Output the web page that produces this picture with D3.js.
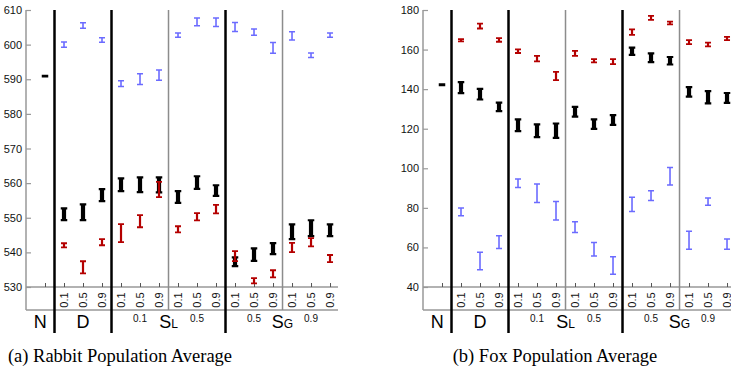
<!DOCTYPE html>
<html>
<head>
<meta charset="utf-8">
<script src="https://cdn.jsdelivr.net/npm/d3@7"></script>
<style>
  body { margin: 0; background: #fff; }
  svg { display: block; }
</style>
</head>
<body>
<div id="d3-container"></div>
<script>
/* DATA */
// slot 0 = N, slots 1..15 = D, SL(0.1), SL(0.5), SG(0.5), SG(0.9) with 0.1/0.5/0.9 each
const tickLabels = ["0.1", "0.5", "0.9"];
const groupLabels = [
  { main: "N", sub: "", at: -0.25 },
  { main: "D", sub: "", at: 2 },
  { main: "S", sub: "L", at: 6.5 },
  { main: "S", sub: "G", at: 12.5 }
];
const groupValues = [
  { label: "0.1", at: 5 },
  { label: "0.5", at: 8 },
  { label: "0.5", at: 11 },
  { label: "0.9", at: 14 }
];
const thickSeps = [0.5, 3.5, 9.5];
const thinSeps = [6.5, 12.5];

// each entry = [low, high] of the error bar
const rabbitBlack = [[590.5, 591.3], [549, 553], [549, 554.2], [554.5, 558.6], [557.4, 561.7], [557.1, 562], [557, 562],
  [554, 558], [558, 562.3], [556, 559.7], [535.7, 538.9], [537.2, 541.5], [539.2, 543], [543.5, 548.4], [544.4, 549.6], [544.4, 548.4]];
const rabbitRed = [null, [541.2, 542.9], [533.7, 537.7], [541.8, 544.1], [542.7, 548.4], [547, 551], [555.7, 560.6],
  [545.5, 547.8], [549, 551.6], [551, 554], [537.2, 540.6], [530.8, 532.8], [532.5, 535.1], [539.8, 543], [541.5, 544.4], [536.9, 539.5]];
const rabbitBlue = [null, [599, 601], [604.5, 606.5], [600.5, 602.2], [587.7, 589.8], [588.3, 591.8], [589.5, 592.9],
  [601.9, 603.6], [605.2, 607.9], [605, 607.9], [603.6, 606.6], [602.5, 604.7], [597.3, 600.8], [601.1, 603.9], [596.1, 597.8], [601.9, 603.6]];

const foxBlack = [[141.5, 143], [137.4, 144.1], [134.2, 140.7], [128.3, 133.7], [118.2, 125.3], [115.2, 122.7], [114.8, 123.2],
  [125.6, 131.6], [119.4, 125.3], [121.4, 127.4], [156.8, 161.5], [153.1, 158.6], [151.9, 156.8], [135.7, 141.6], [132.3, 139.6], [132.5, 138.6]];
const foxRed = [null, [163.7, 165.7], [170.2, 173.6], [163.5, 166.2], [157.8, 160.6], [153.6, 157.3], [144.1, 149.2],
  [156.4, 159.8], [153.1, 155.6], [152.2, 155.6], [167, 170.7], [174.6, 177.5], [172.3, 174.6], [162.3, 165.2], [161.2, 164], [164.3, 166.9]];
const foxBlue = [null, [75.6, 80.3], [48.3, 57.9], [59.1, 66.3], [89.9, 95], [82.3, 92.4], [73.5, 83.6],
  [67.2, 73.4], [55.3, 62.9], [46.1, 55.7], [77.8, 85.7], [83.3, 89], [91.2, 100.8], [58.7, 68.5], [81, 85.4], [58.7, 64.6]];

const rabbitTicks = [530, 540, 550, 560, 570, 580, 590, 600, 610];
const foxTicks = [40, 60, 80, 100, 120, 140, 160, 180];

/* CONSTANTS */
const width = 731, height = 376;
const topY = 10, baseY = 287, frameBottom = 310, labelBottom = 333;
const plotWidth = 312;
const sans = "Liberation Sans, Arial, sans-serif";

const seriesStyle = {
  black: { color: "#000", stem: 4.2, cap: 6.5, capW: 2.2 },
  red: { color: "#b40000", stem: 2.2, cap: 6, capW: 1.8 },
  blue: { color: "#6b6bff", stem: 1.6, cap: 6, capW: 1.5 }
};

const svg = d3.select("#d3-container")
  .append("svg")
  .attr("width", width)
  .attr("height", height)
  .attr("font-family", sans);

svg.append("rect").attr("width", width).attr("height", height).attr("fill", "#fff");

function drawPanel(left, domain, ticks, series, caption, captionX) {
  const g = svg.append("g").attr("transform", `translate(${left},0)`);

  const x = d3.scaleLinear().domain([-1, 15.42]).range([0, plotWidth]);
  const y = d3.scaleLinear().domain(domain).range([baseY, topY]);

  // frame lines
  const gray = "#999";
  g.append("line").attr("x1", 0).attr("x2", 0).attr("y1", topY).attr("y2", frameBottom)
    .attr("stroke", gray).attr("stroke-width", 1.5);
  g.append("line").attr("x1", 0).attr("x2", plotWidth).attr("y1", frameBottom).attr("y2", frameBottom)
    .attr("stroke", gray).attr("stroke-width", 1.5);

  // y axis
  const yAxis = d3.axisLeft(y).tickValues(ticks).tickSizeInner(-5).tickSizeOuter(0).tickPadding(4);
  const ya = g.append("g").call(yAxis).attr("font-family", sans);
  ya.select(".domain").remove();
  ya.selectAll("line").attr("stroke", gray).attr("stroke-width", 1.2);
  ya.selectAll("text").attr("font-size", 11).attr("fill", "#111");

  // x axis on baseline
  const xAxis = d3.axisBottom(x).tickValues(d3.range(0, 16)).tickSizeInner(-4).tickSizeOuter(0)
    .tickFormat(i => i === 0 ? "" : tickLabels[(i - 1) % 3]);
  const xa = g.append("g").attr("transform", `translate(0,${baseY})`).call(xAxis).attr("font-family", sans);
  xa.select(".domain").attr("stroke", gray).attr("stroke-width", 1.5).attr("d", `M0,0H${plotWidth}`);
  xa.selectAll("line").attr("stroke", "#555").attr("stroke-width", 1);
  xa.selectAll("text")
    .attr("font-size", 11).attr("fill", "#111")
    .attr("y", 0).attr("dy", "0.35em")
    .attr("text-anchor", "middle")
    .attr("transform", "translate(0,13) rotate(-90)");

  // separators
  g.selectAll(".thin").data(thinSeps).join("line")
    .attr("x1", d => x(d)).attr("x2", d => x(d)).attr("y1", topY).attr("y2", frameBottom)
    .attr("stroke", "#8c8c8c").attr("stroke-width", 1.5);
  g.selectAll(".thick").data(thickSeps).join("line")
    .attr("x1", d => x(d)).attr("x2", d => x(d)).attr("y1", topY).attr("y2", labelBottom)
    .attr("stroke", "#000").attr("stroke-width", 2.5);

  // group labels
  const gl = g.selectAll(".glabel").data(groupLabels).join("text")
    .attr("x", d => x(d.at)).attr("y", 328)
    .attr("text-anchor", "middle")
    .attr("font-size", 18).attr("fill", "#000");
  gl.append("tspan").text(d => d.main);
  gl.append("tspan").attr("font-size", 12).text(d => d.sub);

  g.selectAll(".gval").data(groupValues).join("text")
    .attr("x", d => x(d.at)).attr("y", 322)
    .attr("text-anchor", "middle")
    .attr("font-size", 10).attr("fill", "#111")
    .text(d => d.label);

  // error bars
  series.forEach(s => {
    const st = seriesStyle[s.key];
    const bars = s.values.map((v, i) => ({ v, i })).filter(d => d.v);
    const bg = g.append("g");
    bg.selectAll("line.stem").data(bars).join("line")
      .attr("x1", d => x(d.i)).attr("x2", d => x(d.i))
      .attr("y1", d => y(d.v[0]) - st.capW / 2).attr("y2", d => y(d.v[1]) + st.capW / 2)
      .attr("stroke", st.color).attr("stroke-width", st.stem);
    bg.selectAll("path.cap").data(bars).join("path")
      .attr("d", d => `M${x(d.i) - st.cap / 2},${y(d.v[0]) - st.capW / 2}h${st.cap}M${x(d.i) - st.cap / 2},${y(d.v[1]) + st.capW / 2}h${st.cap}`)
      .attr("stroke", st.color).attr("stroke-width", st.capW).attr("fill", "none");
  });

  svg.append("text")
    .attr("x", captionX).attr("y", 362)
    .attr("text-anchor", "middle")
    .attr("font-family", "Liberation Serif, Times New Roman, serif")
    .attr("font-size", 18.5).attr("fill", "#000")
    .text(caption);
}

drawPanel(26, [530, 610], rabbitTicks,
  [{ key: "black", values: rabbitBlack }, { key: "red", values: rabbitRed }, { key: "blue", values: rabbitBlue }],
  "(a) Rabbit Population Average", 120);
drawPanel(423, [40, 180], foxTicks,
  [{ key: "black", values: foxBlack }, { key: "red", values: foxRed }, { key: "blue", values: foxBlue }],
  "(b) Fox Population Average", 555);
</script>
</body>
</html>
